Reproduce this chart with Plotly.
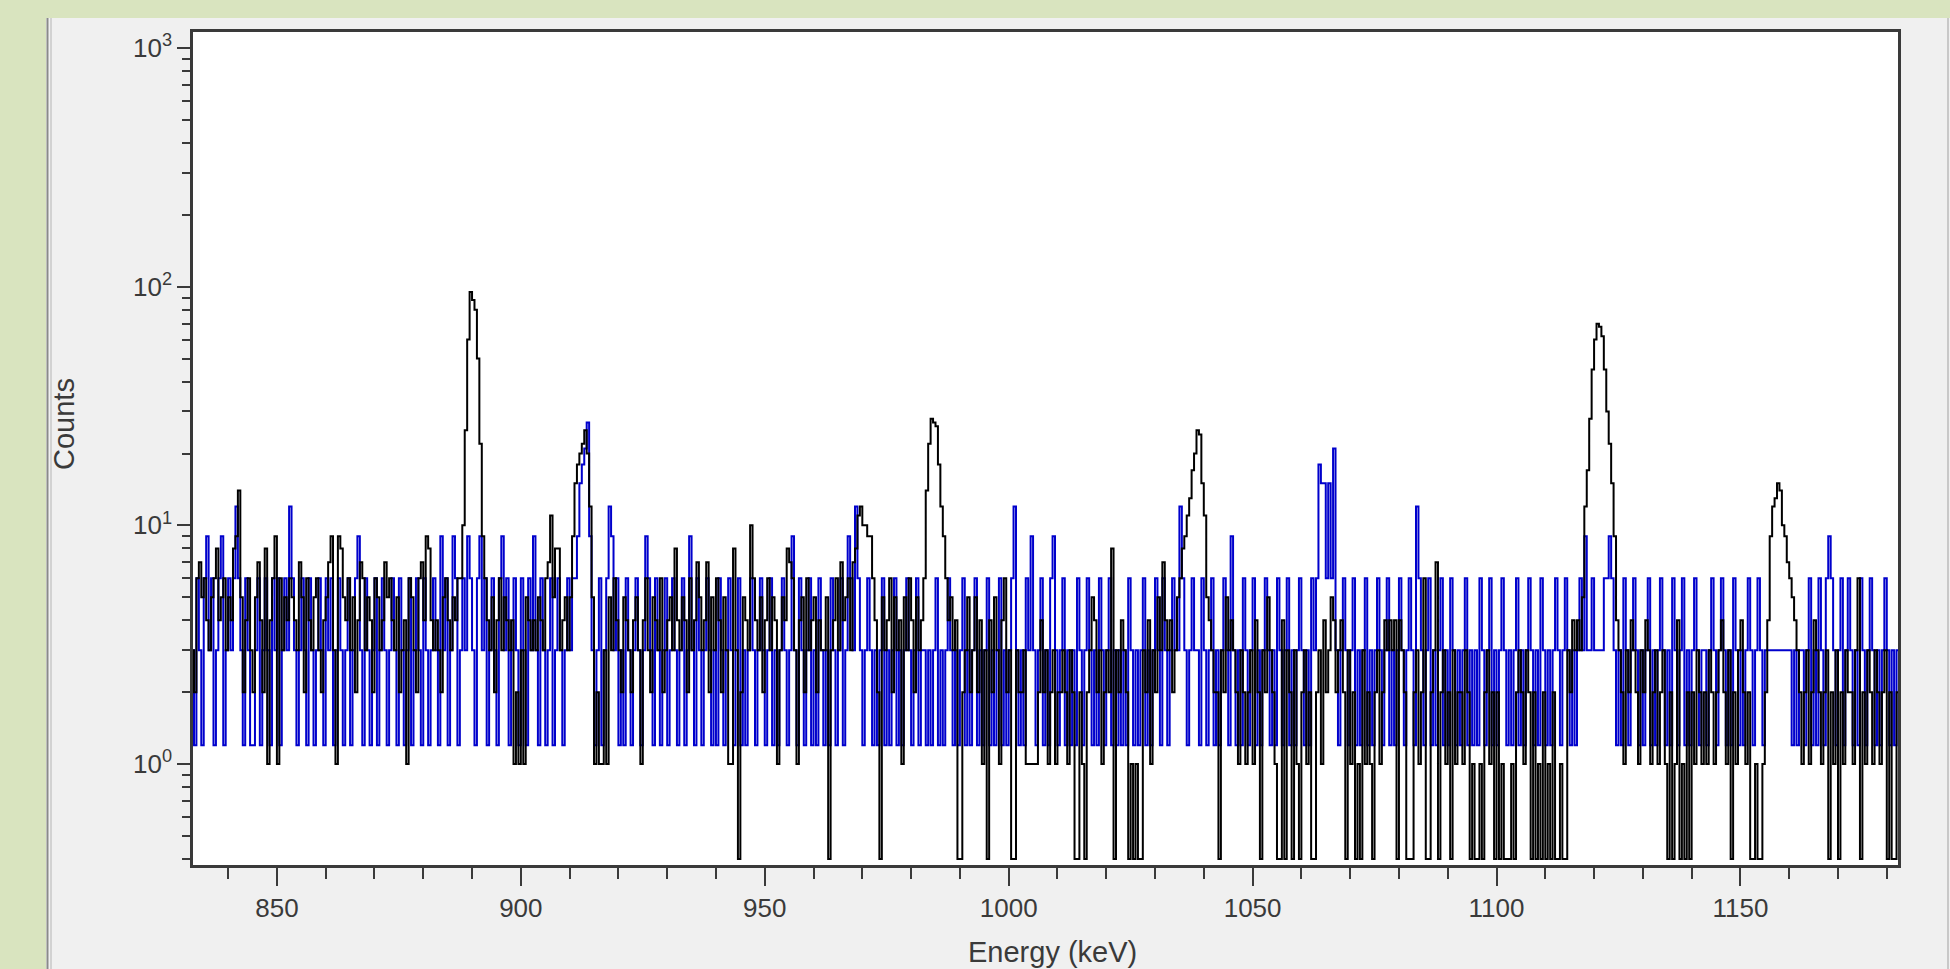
import plotly.graph_objects as go

# ---------------- data ----------------
# Channel calibration: 0.5 keV bins, first bin starts at 832.5 keV
bin_start_kev = 832.5
bin_width_kev = 0.5

# Sample spectrum (black), raw counts per 0.5 keV bin, one row = 10 keV
sample_counts = [
    3,2,6,7,5,6,4,3,5,6,8,4,5,6,3,5,4,8,9,14,        # 832.5
    5,2,4,6,3,2,5,7,4,2,8,1,4,6,9,1,6,3,5,4,         # 842.5
    6,5,4,3,7,5,2,6,4,3,5,6,3,2,4,5,7,9,3,1,         # 852.5
    9,8,5,4,6,3,5,2,4,7,6,3,5,4,2,6,5,3,4,7,         # 862.5
    5,6,4,3,5,2,3,4,1,6,5,3,2,6,7,4,9,8,4,3,         # 872.5
    4,3,2,5,6,4,3,5,4,6,6,10,25,60,95,88,80,50,22,9, # 882.5
    6,4,3,5,2,4,6,3,5,4,3,4,1,2,1,3,1,5,4,3,         # 892.5
    4,3,5,4,3,6,7,11,5,8,8,3,4,5,3,5,9,15,18,20,     # 902.5
    22,25,20,12,5,1,2,1,1,3,1,5,3,6,4,3,2,5,4,3,     # 912.5
    2,4,5,3,1,4,6,3,2,5,4,3,6,2,3,4,5,3,8,4,         # 922.5
    3,5,4,2,6,3,4,7,5,3,4,7,2,5,3,6,4,2,5,3,         # 932.5
    1,1,8,3,0,2,5,4,3,10,6,4,3,5,2,4,6,3,5,4,        # 942.5
    1,3,5,4,8,7,6,3,1,4,5,2,6,3,4,5,2,4,3,3,         # 952.5
    5,0,3,4,6,3,7,4,5,6,3,7,8,11,12,10,10,9,9,6,     # 962.5
    4,2,0,5,3,4,6,2,5,3,4,1,5,3,6,4,2,5,3,4,         # 972.5
    6,14,22,28,27,26,18,12,9,6,4,5,3,4,0,0,2,3,5,2,  # 982.5
    3,5,2,4,1,3,0,4,2,5,3,1,4,6,2,3,0,0,3,2,         # 992.5
    2,3,1,1,1,1,1,2,4,2,3,1,2,3,1,2,2,3,2,1,         # 1002.5
    3,2,0,0,2,1,0,2,3,5,4,2,3,1,2,3,2,8,0,3,         # 1012.5
    2,4,3,2,0,1,0,1,0,0,3,2,4,1,3,2,5,3,7,4,         # 1022.5
    3,4,2,3,5,6,8,9,11,13,17,20,25,24,15,11,5,4,3,2, # 1032.5
    2,0,3,2,5,3,4,3,2,1,3,2,1,2,3,1,4,2,0,3,         # 1042.5
    2,5,3,2,1,0,0,4,0,3,2,0,3,1,0,2,3,1,2,0,         # 1052.5
    0,2,3,1,4,2,3,5,4,2,3,4,2,0,3,1,2,0,1,0,         # 1062.5
    3,1,2,1,0,2,3,1,2,4,3,4,3,4,0,4,3,2,0,0,         # 1072.5
    0,2,3,1,2,6,0,0,2,3,7,0,2,3,1,2,0,3,1,2,         # 1082.5
    2,1,3,2,0,1,0,0,1,0,2,3,1,2,0,2,0,1,0,0,         # 1092.5
    0,1,0,2,3,2,1,3,2,0,2,0,1,0,2,0,1,0,2,0,         # 1102.5
    0,1,0,0,3,2,4,3,4,3,5,12,17,28,45,60,70,68,62,45,# 1112.5
    30,22,15,9,4,3,2,1,3,2,4,3,2,1,3,2,4,3,1,2,      # 1122.5
    3,1,2,3,1,0,2,0,1,4,0,1,0,2,0,2,1,3,2,1,         # 1132.5
    2,1,3,2,1,2,3,4,2,1,3,0,2,1,3,4,2,1,2,0,         # 1142.5
    0,1,0,0,1,2,4,9,12,13,15,14,10,9,7,6,5,4,3,2,    # 1152.5
    1,2,3,1,2,4,3,2,1,2,3,0,2,1,3,0,2,1,3,2,         # 1162.5
    2,1,3,6,0,2,1,3,2,1,3,2,1,2,3,0,2,0,0,2,         # 1172.5
]

# Reference spectrum (blue), raw counts per bin, plotted scaled by 3
reference_counts = [
    1,0,2,1,0,2,3,1,2,0,1,2,3,0,1,2,1,2,4,2,   # 832.5
    1,0,2,1,0,0,1,2,0,1,2,1,0,2,1,2,0,1,2,1,   # 842.5
    4,2,1,0,1,2,1,0,2,1,0,1,2,1,0,2,1,2,0,1,   # 852.5
    2,1,0,1,2,0,1,2,3,1,0,2,1,0,1,2,0,1,2,1,   # 862.5
    0,1,2,1,0,2,1,0,1,2,0,1,2,1,0,2,1,0,1,2,   # 872.5
    1,0,3,1,2,0,1,3,2,0,1,2,1,3,2,1,0,2,3,1,   # 882.5
    2,0,1,2,1,0,2,3,1,2,0,1,2,1,0,2,1,0,2,1,   # 892.5
    3,1,0,2,1,0,1,2,0,1,2,1,0,1,2,1,2,2,3,5,   # 902.5
    6,7,9,3,1,0,1,2,0,1,2,4,3,1,2,0,1,0,2,1,   # 912.5
    0,1,2,1,0,1,3,2,1,0,2,1,0,1,2,0,1,2,1,0,   # 922.5
    1,2,0,1,3,1,0,2,1,0,1,2,1,0,1,0,2,1,0,1,   # 932.5
    2,1,0,1,2,0,1,0,1,2,1,0,1,2,1,0,1,2,0,1,   # 942.5
    0,1,2,1,0,1,3,1,0,2,1,0,1,2,0,1,0,2,1,0,   # 952.5
    1,0,2,1,0,1,2,0,1,3,2,1,4,2,1,0,1,2,1,0,   # 962.5
    1,0,1,2,0,1,0,1,2,0,1,0,1,2,1,0,1,2,0,1,   # 972.5
    1,0,1,0,1,2,0,1,0,1,2,1,0,1,0,1,2,0,1,0,   # 982.5
    1,2,0,1,0,1,2,0,1,0,1,2,0,1,0,1,2,4,1,0,   # 992.5
    1,0,2,1,3,1,0,1,2,0,1,0,2,3,1,0,1,2,0,1,   # 1002.5
    0,1,0,2,1,0,1,2,1,0,1,0,2,1,0,1,2,0,1,0,   # 1012.5
    1,0,1,0,2,1,0,1,0,1,2,0,1,0,1,2,1,0,2,1,   # 1022.5
    0,1,2,1,1,4,2,1,0,1,2,1,1,0,2,1,0,1,2,0,   # 1032.5
    1,0,1,2,1,0,3,1,0,1,0,2,1,0,1,2,0,1,0,1,   # 1042.5
    2,1,0,1,0,2,1,0,1,2,0,1,0,1,2,1,0,1,0,2,   # 1052.5
    1,2,6,5,5,2,5,2,7,1,0,1,2,1,0,1,2,0,1,0,   # 1062.5
    1,2,0,1,0,1,2,1,0,1,2,0,1,0,1,2,1,0,1,2,   # 1072.5
    1,0,4,2,1,0,1,2,0,1,0,1,2,0,1,0,2,1,0,1,   # 1082.5
    0,1,2,0,1,0,1,0,2,1,0,1,2,0,1,0,1,2,1,0,   # 1092.5
    1,0,1,2,0,1,0,1,2,1,0,1,0,2,1,0,1,0,1,2,   # 1102.5
    1,0,1,2,1,0,1,0,1,2,1,3,1,1,2,1,1,1,1,2,   # 1112.5
    2,3,2,1,0,1,0,2,1,0,1,2,1,0,1,0,1,2,0,1,   # 1122.5
    0,1,2,1,0,1,0,2,1,0,1,2,0,1,0,1,2,1,0,1,   # 1132.5
    1,0,1,2,1,0,1,2,1,0,1,0,2,1,0,1,0,1,2,1,   # 1142.5
    0,1,2,1,0,1,1,1,1,1,1,1,1,1,1,1,0,1,0,1,   # 1152.5
    1,0,1,2,0,1,0,2,1,0,2,3,2,1,0,1,2,0,1,2,   # 1162.5
    1,0,1,0,2,1,0,1,2,1,0,1,0,1,2,1,0,1,0,1,   # 1172.5
]
reference_scale = 3.0
zero_floor = 0.4  # empty channels are drawn at this level on the log axis

x_tick_values = [850, 900, 950, 1000, 1050, 1100, 1150]
x_tick_labels = ["850", "900", "950", "1000", "1050", "1100", "1150"]
y_tick_values = [1, 10, 100, 1000]
y_tick_labels = ["10<sup>0</sup>", "10<sup>1</sup>", "10<sup>2</sup>", "10<sup>3</sup>"]
y_minor_values = [m * d for d in (0.1, 1, 10, 100) for m in range(2, 10)]

# ---------------- build ----------------
def step_xy(counts, scale):
    n = len(counts)
    xs = [bin_start_kev + i * bin_width_kev for i in range(n + 1)]
    ys = [max(c, zero_floor) * scale for c in counts]
    ys.append(ys[-1])
    return xs, ys

W, H = 1950, 969
L, R, T, B = 193, 52, 32, 104
PW, PH = W - L - R, H - T - B

def px(x):
    return (x - L) / PW

def py(y):
    return (H - B - y) / PH

FONT = "Liberation Sans, Arial, Helvetica, sans-serif"
TXT = "#3a3a3a"
AX = "#3a3a3a"

fig = go.Figure()
xb, yb = step_xy(reference_counts, reference_scale)
fig.add_trace(go.Scatter(x=xb, y=yb, mode="lines", line=dict(shape="hv", color="#0000cc", width=2),
                         name="Reference", showlegend=False, hoverinfo="skip"))
xs, ys = step_xy(sample_counts, 1.0)
fig.add_trace(go.Scatter(x=xs, y=ys, mode="lines", line=dict(shape="hv", color="#000000", width=2),
                         name="Sample", showlegend=False, hoverinfo="skip"))

shapes = [
    # green surround
    dict(type="rect", xref="paper", yref="paper", x0=-0.2, x1=1.2, y0=py(18), y1=py(-30),
         fillcolor="#d9e4bf", line=dict(width=0), layer="below"),
    dict(type="rect", xref="paper", yref="paper", x0=px(-30), x1=px(46), y0=py(1000), y1=py(-30),
         fillcolor="#d9e4bf", line=dict(width=0), layer="below"),
    # window frame lines
    dict(type="line", xref="paper", yref="paper", x0=px(47.5), x1=px(47.5), y0=py(969), y1=py(18),
         line=dict(color="#8a8a8a", width=2), layer="below"),
    dict(type="line", xref="paper", yref="paper", x0=px(51), x1=px(51), y0=py(969), y1=py(18),
         line=dict(color="#b4b4b4", width=1), layer="below"),
    dict(type="line", xref="paper", yref="paper", x0=px(1948), x1=px(1948), y0=py(969), y1=py(18),
         line=dict(color="#c8c8c8", width=2), layer="below"),
]

fig.update_layout(
    width=W, height=H,
    margin=dict(l=L, r=R, t=T, b=B, autoexpand=False),
    paper_bgcolor="#f0f0f0",
    plot_bgcolor="#ffffff",
    font=dict(family=FONT, color=TXT, size=24),
    shapes=shapes,
    showlegend=False,
    annotations=[
        dict(text="Counts", xref="paper", yref="paper", x=px(64), y=py(424), textangle=-90,
             showarrow=False, xanchor="center", yanchor="middle", font=dict(size=29, color=TXT, family=FONT)),
        dict(text="Energy (keV)", xref="paper", yref="paper", x=px(1052), y=py(952),
             showarrow=False, xanchor="center", yanchor="middle", font=dict(size=29, color=TXT, family=FONT)),
    ],
)

fig.update_xaxes(
    range=[832.8, 1182.3], showgrid=False, zeroline=False,
    showline=True, linecolor=AX, linewidth=2.5, mirror=True,
    tickmode="array", tickvals=x_tick_values, ticktext=x_tick_labels,
    ticks="outside", ticklen=18, tickwidth=2, tickcolor=AX,
    tickfont=dict(size=26, color=TXT, family=FONT),
    minor=dict(ticks="outside", ticklen=11, tickwidth=2, tickcolor=AX, dtick=10, tick0=850, showgrid=False),
)
fig.update_yaxes(
    type="log", range=[-0.423, 3.067], showgrid=False, zeroline=False,
    showline=True, linecolor=AX, linewidth=2.5, mirror=True,
    tickmode="array", tickvals=y_tick_values, ticktext=y_tick_labels,
    ticks="outside", ticklen=13, tickwidth=2, tickcolor=AX,
    tickfont=dict(size=26, color=TXT, family=FONT),
    minor=dict(ticks="outside", ticklen=8, tickwidth=2, tickcolor=AX,
               tickmode="array", tickvals=y_minor_values, showgrid=False),
)

fig.write_html(
    "out.html",
    config={"displayModeBar": False},
    post_script="document.body.style.margin='0px';document.body.style.padding='0px';document.body.style.overflow='hidden';",
)
